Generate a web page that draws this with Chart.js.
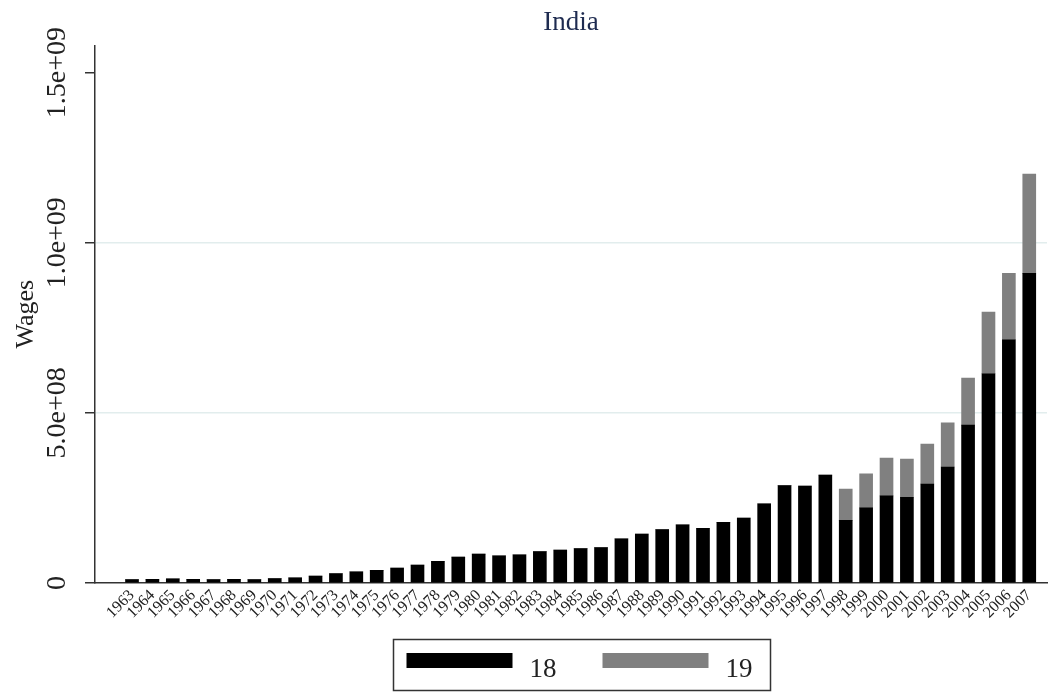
<!DOCTYPE html>
<html>
<head>
<meta charset="utf-8">
<title>India</title>
<script src="https://cdn.jsdelivr.net/npm/chart.js@4.4.0/dist/chart.umd.min.js"></script>
<style>
  body { margin: 0; background: #fff; }
  .wrap { width: 1061px; height: 692px; }
</style>
</head>
<body>
<div class="wrap"><canvas id="wagesChart"></canvas></div>
<script>
const years = [1963, 1964, 1965, 1966, 1967, 1968, 1969, 1970, 1971, 1972,
  1973, 1974, 1975, 1976, 1977, 1978, 1979, 1980, 1981, 1982,
  1983, 1984, 1985, 1986, 1987, 1988, 1989, 1990, 1991, 1992,
  1993, 1994, 1995, 1996, 1997, 1998, 1999, 2000, 2001, 2002,
  2003, 2004, 2005, 2006, 2007];

const wages18 = [1.0e7, 1.1e7, 1.2e7, 1.1e7, 1.0e7, 1.1e7, 1.0e7, 1.3e7, 1.5e7, 2.0e7,
  2.8e7, 3.3e7, 3.7e7, 4.4e7, 5.3e7, 6.4e7, 7.6e7, 8.5e7, 8.0e7, 8.3e7,
  9.2e7, 9.7e7, 1.01e8, 1.04e8, 1.30e8, 1.44e8, 1.57e8, 1.71e8, 1.61e8, 1.78e8,
  1.91e8, 2.33e8, 2.86e8, 2.85e8, 3.17e8, 1.84e8, 2.21e8, 2.56e8, 2.52e8, 2.91e8,
  3.41e8, 4.64e8, 6.15e8, 7.15e8, 9.10e8];

const wages19 = [0, 0, 0, 0, 0, 0, 0, 0, 0, 0,
  0, 0, 0, 0, 0, 0, 0, 0, 0, 0,
  0, 0, 0, 0, 0, 0, 0, 0, 0, 0,
  0, 0, 0, 0, 0, 9.2e7, 1.00e8, 1.11e8, 1.12e8, 1.17e8,
  1.30e8, 1.38e8, 1.81e8, 1.95e8, 2.92e8];

const seriesNames = ['18', '19'];
const yTicks = [0, 5e8, 1e9, 1.5e9];
const yTickLabels = ['0', '5.0e+08', '1.0e+09', '1.5e+09'];

const serif = "'Liberation Serif', 'DejaVu Serif', serif";
const axisColor = '#333';

// stata style y labels, turned 90 degrees
const yLabels = {
  id: 'yLabels',
  afterDraw(chart) {
    const ctx = chart.ctx;
    const scale = chart.scales.y;
    ctx.save();
    ctx.fillStyle = '#222';
    ctx.font = '28px ' + serif;
    ctx.textAlign = 'center';
    ctx.textBaseline = 'middle';
    yTicks.forEach((v, i) => {
      ctx.save();
      ctx.translate(58, scale.getPixelForValue(v));
      ctx.rotate(-Math.PI / 2);
      ctx.fillText(yTickLabels[i], 0, 0);
      ctx.restore();
    });
    ctx.restore();
  }
};

// legend in a box under the axis
const boxLegend = {
  id: 'boxLegend',
  afterDraw(chart) {
    const ctx = chart.ctx;
    const area = chart.chartArea;
    const sw = 106, sh = 15, gap = 17, between = 46, padL = 13, padR = 18;
    const sets = chart.data.datasets;
    ctx.save();
    ctx.font = '27px ' + serif;
    let total = padL + padR;
    sets.forEach((ds, i) => {
      total += sw + gap + ctx.measureText(ds.label).width + (i ? between : 0);
    });
    const left = Math.round((area.left + area.right) / 2 + 10 - total / 2) + 0.5;
    const top = 639.5, h = 51;
    ctx.strokeStyle = axisColor;
    ctx.lineWidth = 1.5;
    ctx.strokeRect(left, top, total, h);
    let x = left + padL;
    ctx.textAlign = 'left';
    ctx.textBaseline = 'alphabetic';
    sets.forEach((ds) => {
      ctx.fillStyle = ds.backgroundColor;
      ctx.fillRect(x, 653, sw, sh);
      x += sw + gap;
      ctx.fillStyle = '#222';
      ctx.fillText(ds.label, x, 677);
      x += ctx.measureText(ds.label).width + between;
    });
    ctx.restore();
  }
};

const ctx = document.getElementById('wagesChart');

new Chart(ctx, {
  type: 'bar',
  data: {
    datasets: [{
      label: seriesNames[0],
      data: years.map((yr, i) => ({ x: yr, y: wages18[i] })),
      backgroundColor: '#000000',
      borderWidth: 0,
      barThickness: 13
    }, {
      label: seriesNames[1],
      data: years.map((yr, i) => ({ x: yr, y: wages19[i] })),
      backgroundColor: '#808080',
      borderWidth: 0,
      barThickness: 13
    }]
  },
  options: {
    responsive: true,
    maintainAspectRatio: false,
    animation: false,
    events: [],
    layout: {
      padding: { left: 0, right: 14, top: 0, bottom: 0 }
    },
    plugins: {
      legend: { display: false },
      tooltip: { enabled: false },
      title: {
        display: true,
        text: 'India',
        fullSize: false,
        color: '#1e2b50',
        font: { family: serif, size: 27, weight: 'normal' },
        padding: { top: 7, bottom: 6 }
      }
    },
    scales: {
      x: {
        type: 'linear',
        offset: false,
        min: 1961.185,
        max: 2007.87,
        stacked: true,
        afterBuildTicks: (scale) => {
          scale.ticks = years.map(v => ({ value: v }));
        },
        afterFit: (scale) => {
          scale.height = 109;
          // rotated labels must not squeeze the bar range
          scale.paddingLeft = 0;
          scale.paddingRight = 0;
        },
        ticks: {
          autoSkip: false,
          minRotation: 45,
          maxRotation: 45,
          padding: 3,
          color: '#222',
          font: { family: serif, size: 16 },
          callback: (v) => String(v)
        },
        grid: { display: false, drawTicks: false },
        border: { display: true, color: axisColor, width: 1.5 }
      },
      y: {
        min: 0,
        max: 1.58e9,
        stacked: true,
        afterBuildTicks: (scale) => {
          scale.ticks = yTicks.map(v => ({ value: v }));
        },
        afterFit: (scale) => { scale.width = 95; },
        ticks: { display: false },
        grid: {
          color: (c) => (c.tick && (c.tick.value === 5e8 || c.tick.value === 1e9)) ? '#e2eded' : 'rgba(0,0,0,0)',
          lineWidth: 1.5,
          tickLength: 10,
          tickColor: axisColor,
          tickWidth: 1.5
        },
        border: { color: axisColor, width: 1.5 },
        title: {
          display: true,
          text: 'Wages',
          color: '#222',
          font: { family: serif, size: 26 },
          padding: { top: 11, bottom: 0 }
        }
      }
    }
  },
  plugins: [yLabels, boxLegend]
});
</script>
</body>
</html>
